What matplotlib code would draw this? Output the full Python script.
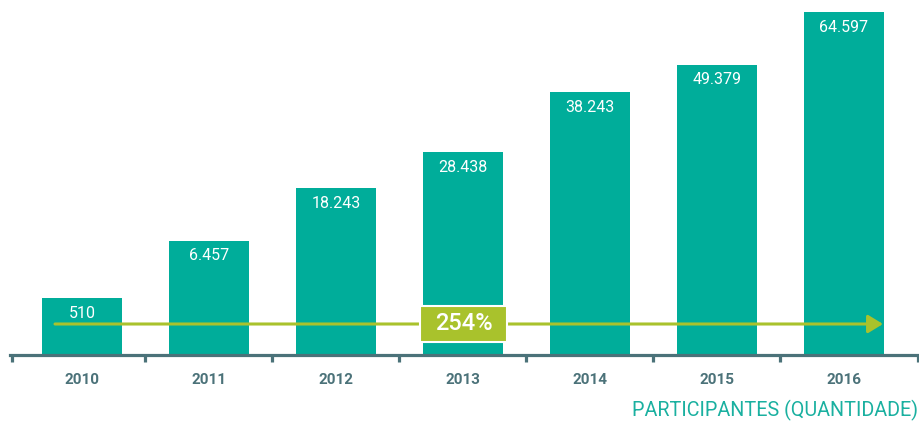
import matplotlib
matplotlib.use("Agg")
import matplotlib.pyplot as plt
from matplotlib.patches import Rectangle

years = ["2010", "2011", "2012", "2013", "2014", "2015", "2016"]
value_labels = ["510", "6.457", "18.243", "28.438", "38.243", "49.379", "64.597"]
# visual bar heights as drawn in the reference (not proportional to values)
bar_heights = [57, 114, 167, 203, 263, 290, 343]
growth_label = "254%"
axis_title = "PARTICIPANTES (QUANTIDADE)"

TEAL = "#00ad9a"
GREEN = "#a9c22c"
SLATE = "#4b7279"

plt.rcParams['font.family'] = ['Roboto', 'DejaVu Sans']

W, H = 920, 423
fig = plt.figure(figsize=(W / 100, H / 100), dpi=100)
ax = fig.add_axes([10 / W, 68 / H, 910 / W, 355 / H])

x = list(range(len(years)))
ax.bar(x, bar_heights, width=0.63, color=TEAL, zorder=2)

ax.set_xlim((10 - 82) / 127, (920 - 82) / 127)
ax.set_ylim(0, 355)

for s in ["top", "right", "left"]:
    ax.spines[s].set_visible(False)
ax.spines["bottom"].set_color(SLATE)
ax.spines["bottom"].set_linewidth(2.3)
ax.spines["bottom"].set_zorder(3)
ax.set_yticks([])

major = [(12 - 82) / 127] + [i + 0.5 for i in range(len(years) - 1)] + [(918 - 82) / 127]
ax.set_xticks(major)
ax.set_xticklabels([])
ax.tick_params(axis="x", which="major", direction="out", length=5, width=2.3, color=SLATE)
ax.set_xticks(x, minor=True)
ax.set_xticklabels(years, minor=True, fontsize=11, fontweight="bold", color=SLATE)
ax.tick_params(axis="x", which="minor", length=0, pad=13)

for xi, h, lab in zip(x, bar_heights, value_labels):
    ax.text(xi, h - 15, lab, ha="center", va="center", color="white", fontsize=11.5, zorder=4)

# growth arrow
x0 = (55 - 82) / 127
x1 = (883 - 82) / 127
ay = 31
ax.annotate("", xy=(x1, ay), xytext=(x0, ay),
            arrowprops=dict(arrowstyle="-|>,head_length=0.9,head_width=0.55",
                            color=GREEN, lw=2.2, shrinkA=0, shrinkB=0),
            zorder=5)
bx0, bx1 = (420 - 82) / 127, (507 - 82) / 127
ax.add_patch(Rectangle((bx0, 13), bx1 - bx0, 36, facecolor=GREEN, edgecolor="white",
                       linewidth=1.5, zorder=6))
ax.text((bx0 + bx1) / 2, ay, growth_label, ha="center", va="center", color="white",
        fontsize=17, fontweight="medium", zorder=7)

fig.text(918 / W, 1 - 410 / H, axis_title, ha="right", va="center", color="#1ab0a0", fontsize=14.2)

fig.savefig("out.png", dpi=100)
